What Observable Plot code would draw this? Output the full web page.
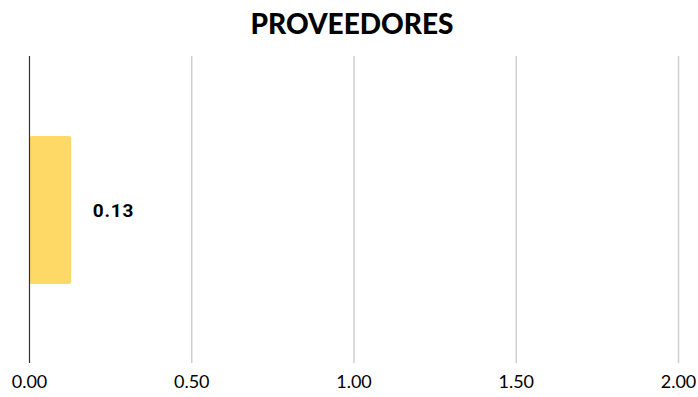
<!DOCTYPE html>
<html>
<head>
<meta charset="utf-8">
<script src="https://cdn.jsdelivr.net/npm/d3@7"></script>
<script src="https://cdn.jsdelivr.net/npm/@observablehq/plot@0.6"></script>
<style>
  html, body { margin: 0; padding: 0; background: #fff; }
  #title { font-family: Lato, sans-serif; font-weight: 900; font-size: 28px; color: #000;
           text-align: center; height: 46px; line-height: 46px; padding-left: 6px; }
  #chart svg { display: block; }
  .vlabel text { font-family: Roboto, sans-serif; letter-spacing: 0.8px; }
</style>
</head>
<body>
<div id="title">PROVEEDORES</div>
<div id="chart"></div>
<script>
const categories = ["PROVEEDORES"];
const values = [0.13];
const tickValues = [0, 0.5, 1, 1.5, 2];
const gridValues = [0.5, 1, 1.5, 2];

const data = categories.map((c, i) => ({ cat: c, value: values[i] }));

const chart = Plot.plot({
  width: 698,
  height: 351,
  marginLeft: 29,
  marginRight: 20,
  marginTop: 10,
  marginBottom: 34,
  style: { fontFamily: "Lato, sans-serif", fontSize: "18px", color: "#000", background: "#fff" },
  x: { domain: [0, 2], ticks: tickValues, tickFormat: d3.format(".2f"), label: null },
  y: { domain: categories, padding: 0.35, axis: null },
  marks: [
    Plot.ruleX(gridValues, { stroke: "#cfcfcf", strokeWidth: 1.5 }),
    Plot.axisX({ ticks: tickValues, tickFormat: d3.format(".2f"), tickSize: 0, tickPadding: 12, fontSize: 18, label: null }),
    Plot.barX(data, { x: "value", y: "cat", fill: "#FFD966", rx: 3 }),
    Plot.ruleX([0], { stroke: "#333", strokeWidth: 1.2 }),
    Plot.text(data, { x: "value", y: "cat", text: d => d3.format(".2f")(d.value), textAnchor: "start", dx: 21, className: "vlabel", fontFamily: "Roboto", fontWeight: "bold", fontSize: 19, fill: "#000" })
  ]
});
document.getElementById("chart").appendChild(chart);
</script>
</body>
</html>
